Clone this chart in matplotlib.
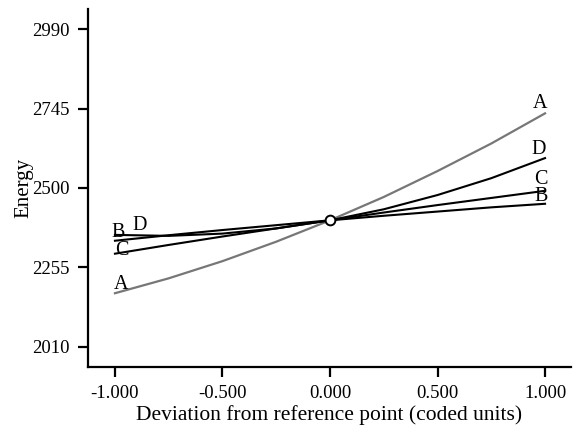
import matplotlib
matplotlib.use("Agg")
import matplotlib.pyplot as plt

# deviation from reference point (coded units)
x = [-1.0, -0.75, -0.5, -0.25, 0.0, 0.25, 0.5, 0.75, 1.0]

# energy traces
energy_a = [2175, 2221, 2274, 2334, 2400, 2472, 2552, 2637, 2730]
energy_b = [2337, 2354, 2370, 2385, 2400, 2414, 2427, 2440, 2451]
energy_c = [2297, 2324, 2350, 2375, 2400, 2424, 2447, 2469, 2491]
energy_d = [2355, 2352, 2359, 2375, 2400, 2434, 2478, 2530, 2592]

ref_x = [0.0]
ref_y = [2400]

y_ticks = [2010, 2255, 2500, 2745, 2990]
x_ticks = [-1.0, -0.5, 0.0, 0.5, 1.0]
x_tick_labels = ["-1.000", "-0.500", "0.000", "0.500", "1.000"]

plt.rcParams["font.family"] = ["Liberation Serif", "DejaVu Serif"]

fig = plt.figure(figsize=(5.78, 4.29), dpi=100)
ax = fig.add_axes([0.152, 0.145, 0.836, 0.834])

ax.plot(x, energy_a, color="#777777", lw=1.6)
ax.plot(x, energy_b, color="black", lw=1.5)
ax.plot(x, energy_c, color="black", lw=1.5)
ax.plot(x, energy_d, color="black", lw=1.5)
ax.plot(ref_x, ref_y, "o", ms=7, mfc="white", mec="black", mew=1.4, zorder=5)

# trace labels at both ends
lab_kw = dict(fontsize=14.5, ha="center", va="center")
ax.text(x[0] + 0.028, energy_a[0] + 26, "A", **lab_kw)
ax.text(x[-1] - 0.023, energy_a[-1] + 29, "A", **lab_kw)
ax.text(x[0] + 0.116, energy_d[0] + 28, "D", **lab_kw)
ax.text(x[-1] - 0.028, energy_d[-1] + 25, "D", **lab_kw)
ax.text(x[0] + 0.03, energy_c[0] + 10, "C", **lab_kw)
ax.text(x[-1] - 0.02, energy_c[-1] + 34, "C", **lab_kw)
ax.text(x[0] + 0.014, energy_b[0] + 26, "B", **lab_kw)
ax.text(x[-1] - 0.02, energy_b[-1] + 21, "B", **lab_kw)

ax.set_xlim(-1.126, 1.121)
ax.set_ylim(1948, 3052)
ax.set_xticks(x_ticks)
ax.set_xticklabels(x_tick_labels)
ax.set_yticks(y_ticks)

for side in ["top", "right"]:
    ax.spines[side].set_visible(False)
for side in ["left", "bottom"]:
    ax.spines[side].set_linewidth(1.6)

ax.tick_params(direction="out", length=7, width=1.6, labelsize=13.5, pad=6)
ax.set_xlabel("Deviation from reference point (coded units)", fontsize=15.5, labelpad=2.5)
ax.set_ylabel("Energy", fontsize=15, labelpad=-0.5)

fig.savefig("out.png", dpi=100)
